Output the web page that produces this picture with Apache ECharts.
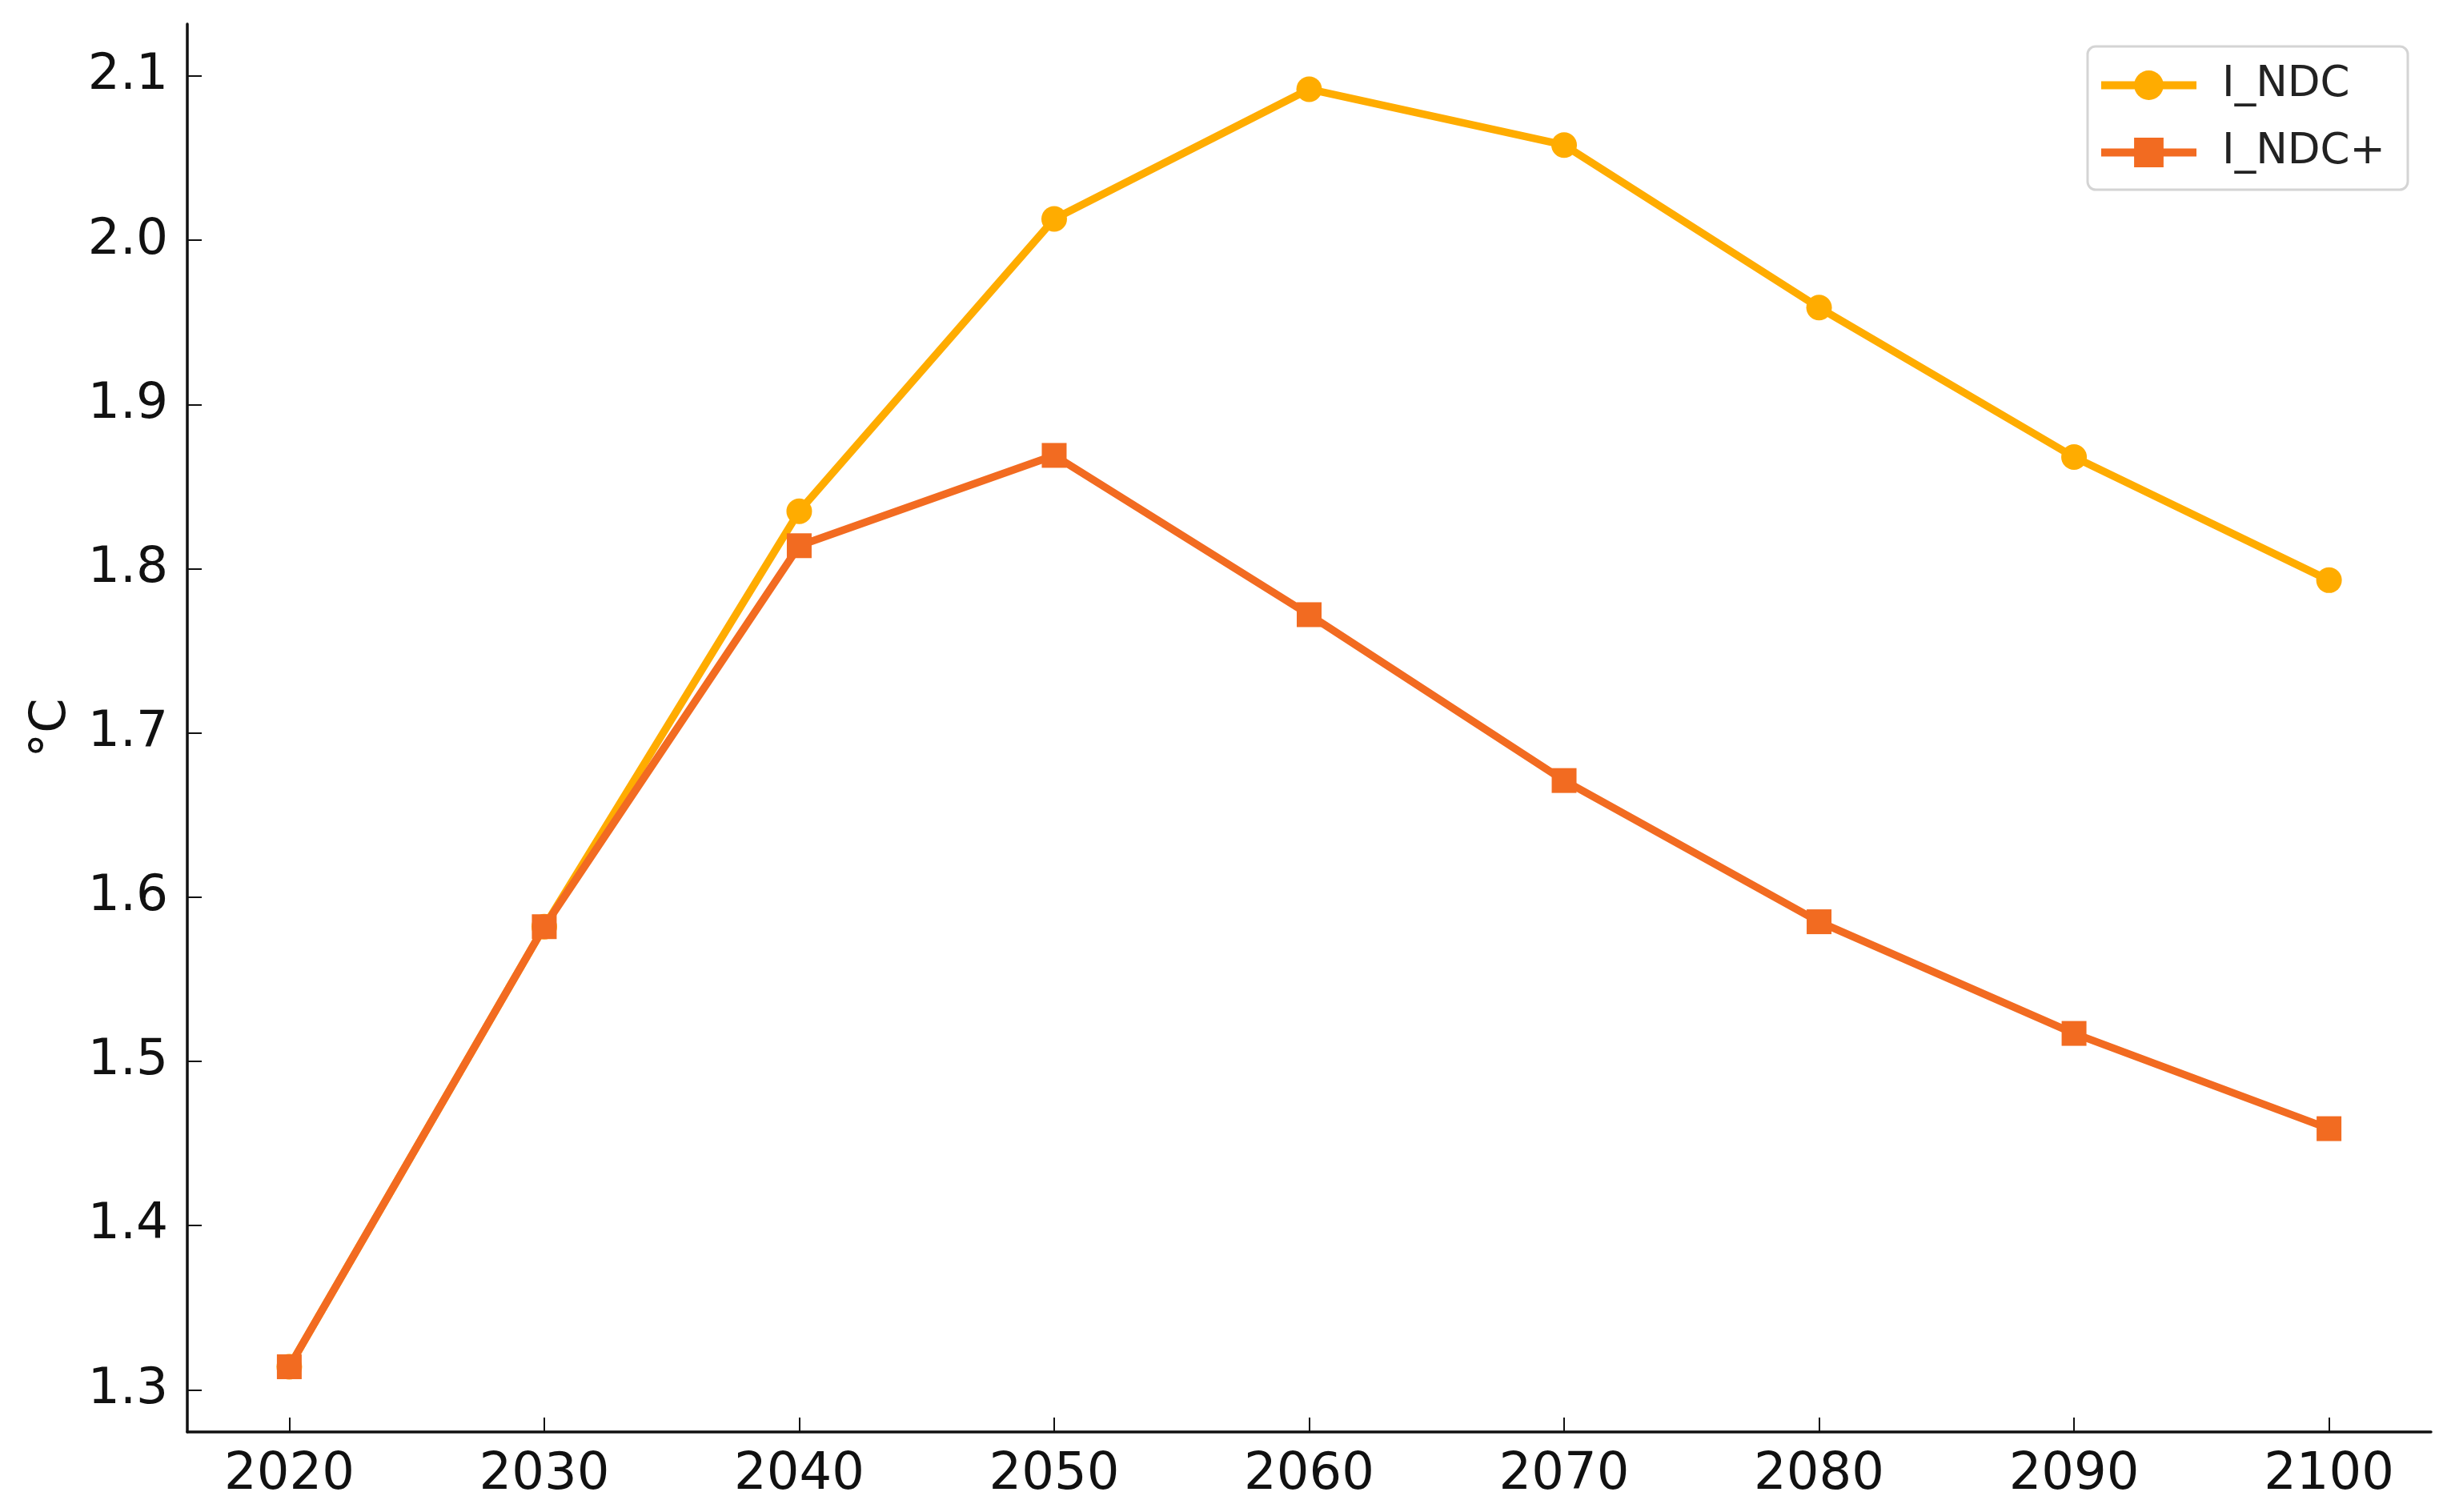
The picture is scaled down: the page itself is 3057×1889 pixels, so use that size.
<!DOCTYPE html>
<html>
<head>
<meta charset="utf-8">
<script src="https://cdn.jsdelivr.net/npm/echarts@6/dist/echarts.min.js"></script>
<style>
html,body{margin:0;padding:0;background:#fff;}
#c{width:3057px;height:1889px;}
</style>
</head>
<body>
<div id="c"></div>
<script>
const years = [2020, 2030, 2040, 2050, 2060, 2070, 2080, 2090, 2100];
const indc = [1.314, 1.582, 1.835, 2.013, 2.092, 2.058, 1.959, 1.868, 1.793];
const indcPlus = [1.314, 1.582, 1.814, 1.869, 1.772, 1.671, 1.585, 1.517, 1.459];
const yTicks = [1.3, 1.4, 1.5, 1.6, 1.7, 1.8, 1.9, 2.0, 2.1];
const seriesNames = ['I_NDC', 'I_NDC+'];
const yName = '°C';

const font = 'DejaVu Sans';
const chart = echarts.init(document.getElementById('c'));
chart.setOption({
  animation: false,
  backgroundColor: '#ffffff',
  grid: {left: 234, right: 20, top: 30, bottom: 100, containLabel: false, outerBoundsMode: 'none'},
  legend: {
    right: 49, top: 58,
    orient: 'vertical',
    padding: [22, 28, 20, 12],
    itemWidth: 119, itemHeight: 46, itemGap: 31,
    borderColor: '#d4d4d4', borderWidth: 3, borderRadius: 10,
    backgroundColor: '#ffffff',
    lineStyle: {width: 10},
    textStyle: {fontFamily: font, fontSize: 53, color: '#222', padding: [0, 0, 0, 27]},
    data: seriesNames
  },
  xAxis: {
    type: 'value', min: 2016, max: 2104,
    axisLine: {show: true, lineStyle: {color: '#111', width: 3.5}},
    axisTick: {show: true, inside: true, length: 18, lineStyle: {color: '#111', width: 2}, customValues: years},
    axisLabel: {fontFamily: font, fontSize: 64, color: '#111', margin: 22, customValues: years, formatter: v => String(v)},
    splitLine: {show: false}
  },
  yAxis: {
    type: 'value', min: 1.2743, max: 2.1317,
    name: yName, nameLocation: 'middle', nameGap: 138, nameRotate: 90, nameMoveOverlap: false,
    nameTextStyle: {fontFamily: font, fontSize: 62, color: '#111'},
    axisLine: {show: true, lineStyle: {color: '#111', width: 3.5}},
    axisTick: {show: true, inside: true, length: 18, lineStyle: {color: '#111', width: 2}, customValues: yTicks},
    axisLabel: {fontFamily: font, fontSize: 63, color: '#111', margin: 24, customValues: yTicks, formatter: v => v.toFixed(1)},
    splitLine: {show: false}
  },
  series: [
    {
      name: seriesNames[0], type: 'line',
      data: years.map((y, i) => [y, indc[i]]),
      symbol: 'circle', symbolSize: 32,
      itemStyle: {color: '#FFAC00'},
      lineStyle: {color: '#FFAC00', width: 9.5}
    },
    {
      name: seriesNames[1], type: 'line',
      data: years.map((y, i) => [y, indcPlus[i]]),
      symbol: 'rect', symbolSize: 31,
      itemStyle: {color: '#F26B21'},
      lineStyle: {color: '#F26B21', width: 9.5}
    }
  ]
});
</script>
</body>
</html>
